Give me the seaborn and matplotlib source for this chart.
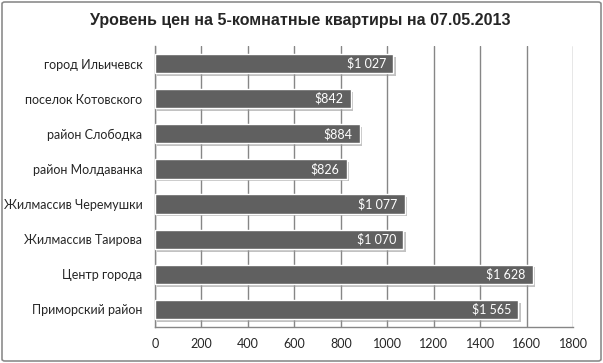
import matplotlib
matplotlib.use("Agg")
import matplotlib.pyplot as plt
import matplotlib.patheffects as pe
from matplotlib.patches import FancyBboxPatch
import seaborn as sns
import pandas as pd

categories = ["город Ильичевск", "поселок Котовского", "район Слободка", "район Молдаванка",
              "Жилмассив Черемушки", "Жилмассив Таирова", "Центр города", "Приморский район"]
prices = [1027, 842, 884, 826, 1077, 1070, 1628, 1565]
xticks = [0, 200, 400, 600, 800, 1000, 1200, 1400, 1600, 1800]
title = "Уровень цен на 5-комнатные квартиры на 07.05.2013"

df = pd.DataFrame({"cat": categories, "price": prices})

sns.set_style("white")
plt.rcParams["font.family"] = ["Lato", "DejaVu Sans"]

fig = plt.figure(figsize=(6.03, 3.63), dpi=100)
ax = fig.add_axes([155/603, 1-327/363, (573-155)/603, (327-46)/363])

sns.barplot(data=df, y="cat", x="price", orient="h", color="#606060", saturation=1,
            width=0.55, ax=ax, edgecolor="white", linewidth=1.0, zorder=3)
for p in ax.patches:
    p.set_path_effects([pe.SimplePatchShadow(offset=(1.5, -2), shadow_rgbFace="#9a9a9a", alpha=0.6),
                        pe.Normal()])

for i, v in enumerate(prices):
    s = f"{v:,}".replace(",", " ")
    ax.text(v - 32, i, "$" + s, ha="right", va="center", color="white", fontsize=9, zorder=5)

ax.set_xlim(0, 1800)
ax.set_xticks(xticks)
ax.set_xticklabels([str(t) for t in xticks], fontsize=9)
ax.set_xlabel("")
ax.set_ylabel("")
ax.tick_params(axis="y", labelsize=9, length=0, pad=9)
ax.tick_params(axis="x", length=0, pad=8)
ax.grid(axis="x", color="#868686", linewidth=1, zorder=0)
ax.set_axisbelow(True)
for s in ["top", "right"]:
    ax.spines[s].set_visible(False)
for s in ["left", "bottom"]:
    ax.spines[s].set_color("#868686")
    ax.spines[s].set_linewidth(1)

fig.text(300/603, 1-20/363, title, ha="center", va="center", fontsize=11.5, fontweight="bold",
         family=["Liberation Sans", "DejaVu Sans"])

border = FancyBboxPatch((2/603, 2/363), 1-4/603, 1-4/363, boxstyle="round,pad=0,rounding_size=0.005",
                        transform=fig.transFigure, fill=False, edgecolor="#8c8c8c", linewidth=1.2)
fig.patches.append(border)

fig.savefig("out.png", dpi=100)
